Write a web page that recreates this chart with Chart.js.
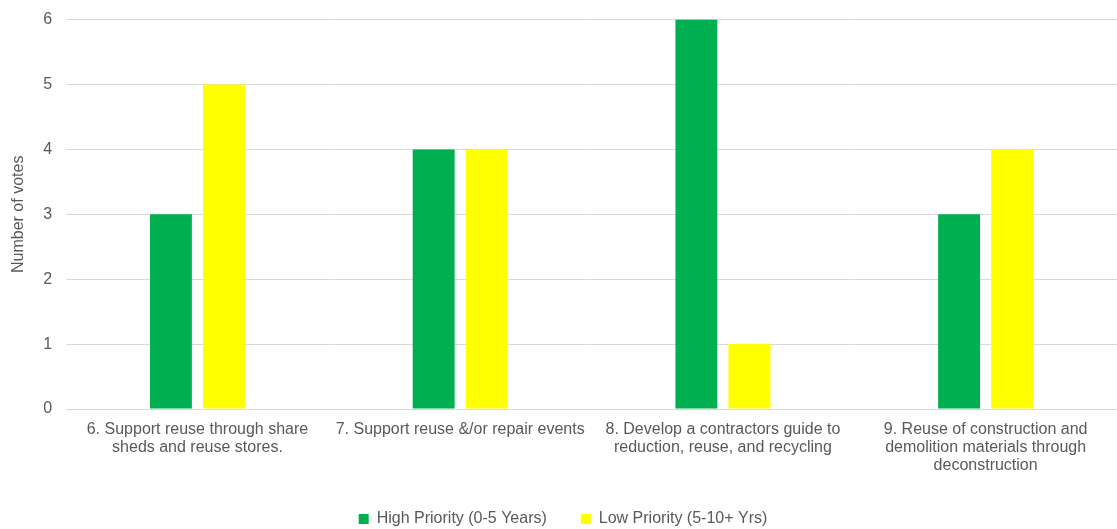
<!DOCTYPE html>
<html>
<head>
<meta charset="utf-8">
<script src="https://cdn.jsdelivr.net/npm/chart.js@4.4.0/dist/chart.umd.min.js"></script>
<style>
  html, body { margin: 0; padding: 0; background: #fff; overflow: hidden; }
  #wrap { width: 1117px; height: 533px; margin-top: -4px; }
</style>
</head>
<body>
<div id="wrap"><canvas id="votesChart" width="1117" height="533"></canvas></div>
<script>
const categories = [
    ['6. Support reuse through share', 'sheds and reuse stores.'],
    ['7. Support reuse &/or repair events'],
    ['8. Develop a contractors guide to', 'reduction, reuse, and recycling'],
    ['9. Reuse of construction and', 'demolition materials through', 'deconstruction']
];
const highPriority = [3, 4, 6, 3];
const lowPriority = [5, 4, 1, 4];

document.addEventListener('DOMContentLoaded', function() {
    Chart.defaults.font.family = '"Liberation Sans", Arial, sans-serif';
    Chart.defaults.color = '#595959';
    const ctx = document.getElementById('votesChart').getContext('2d');
    new Chart(ctx, {
        type: 'bar',
        data: {
            labels: categories,
            datasets: [
                {
                    label: 'High Priority (0-5 Years)',
                    data: highPriority,
                    backgroundColor: '#00B050'
                },
                {
                    label: 'Low Priority (5-10+ Yrs)',
                    data: lowPriority,
                    backgroundColor: '#FFFF00'
                }
            ]
        },
        options: {
            responsive: false,
            animation: false,
            categoryPercentage: 0.404,
            barPercentage: 0.79,
            layout: { padding: { top: 2, right: 0, left: 9, bottom: -8 } },
            scales: {
                x: {
                    grid: { display: false, drawTicks: false },
                    border: { color: '#d9d9d9' },
                    ticks: {
                        font: { size: 16, lineHeight: 1.125 },
                        maxRotation: 0,
                        autoSkip: false,
                        padding: 12
                    },
                    // labels sit close to the legend in the original, give the plot the space
                    afterFit: function(scale) { scale.height -= 10; }
                },
                y: {
                    min: 0,
                    max: 6,
                    grid: { color: '#d9d9d9', drawTicks: false },
                    border: { display: false },
                    ticks: {
                        stepSize: 1,
                        font: { size: 16 },
                        padding: 14
                    },
                    title: {
                        display: true,
                        text: 'Number of votes',
                        font: { size: 16 },
                        padding: { top: 0, bottom: 1 }
                    }
                }
            },
            plugins: {
                legend: {
                    position: 'bottom',
                    labels: {
                        boxWidth: 10,
                        boxHeight: 10,
                        font: { size: 16 },
                        padding: 34
                    }
                },
                tooltip: { enabled: false }
            }
        }
    });
});
</script>
</body>
</html>
